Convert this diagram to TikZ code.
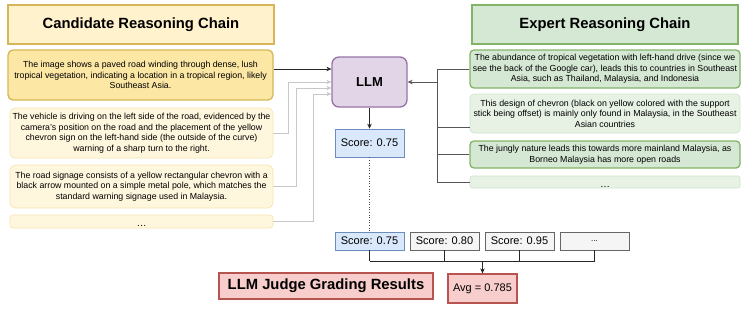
\documentclass[tikz,border=0pt]{standalone}
\usepackage{fontspec}
\setmainfont{Liberation Sans}
\usetikzlibrary{arrows.meta, calc}
\definecolor{CandFill}{HTML}{FFF2CC}
\definecolor{CandStrong}{HTML}{FCE7A5}
\definecolor{CandLight}{HTML}{FFF6DE}
\definecolor{CandEdge}{HTML}{D6B656}
\definecolor{CandEdgeLight}{HTML}{F5E3AD}
\definecolor{ExpFill}{HTML}{D5E8D4}
\definecolor{ExpLight}{HTML}{E7F2E5}
\definecolor{ExpEdge}{HTML}{82B366}
\definecolor{ExpEdgeLight}{HTML}{CDE4C9}
\definecolor{LlmFill}{HTML}{E1D5E7}
\definecolor{LlmEdge}{HTML}{9673A6}
\definecolor{ScoreFill}{HTML}{DAE8FC}
\definecolor{ScoreEdge}{HTML}{6C8EBF}
\definecolor{OtherFill}{HTML}{F5F5F5}
\definecolor{OtherEdge}{HTML}{666666}
\definecolor{JudgeFill}{HTML}{F8CECC}
\definecolor{JudgeEdge}{HTML}{B85450}
\definecolor{WireGray}{HTML}{C8C8C8}
\definecolor{WireDark}{HTML}{555555}

\begin{document}
\begin{tikzpicture}[x=1pt, y=-1pt,
    box/.style={inner sep=0pt, align=center, font=\fontsize{8.8}{10.5}\selectfont},
    title/.style={draw, line width=1.2pt, inner sep=0pt, font=\fontsize{14.8}{17}\selectfont\bfseries},
    candstrong/.style={box, rounded corners=5pt, draw=CandEdge, line width=1.3pt, fill=CandStrong},
    candlight/.style={box, rounded corners=5pt, draw=CandEdgeLight, line width=0.6pt, fill=CandLight},
    expstrong/.style={box, rounded corners=4pt, draw=ExpEdge, line width=1.3pt, fill=ExpFill},
    explight/.style={box, rounded corners=4pt, draw=ExpEdgeLight, line width=0.6pt, fill=ExpLight},
    scorebox/.style={draw, line width=0.6pt, inner sep=0pt, minimum width=69pt, minimum height=18pt,
      font=\fontsize{11}{13}\selectfont},
    wire/.style={line width=0.6pt, -{Stealth[length=5pt, width=4.5pt]}}]

\useasboundingbox (0,0) rectangle (753,314);

% ================= CADENA CANDIDATA =================
\node[title, draw=CandEdge, fill=CandFill, minimum width=266pt, minimum height=39pt]
    (ctitle) at (141,24.5) {Candidate Reasoning Chain};
\node[candstrong, minimum width=265pt, minimum height=50pt] (c1) at (140.5,75)
    {The image shows a paved road winding through dense, lush\\
     tropical vegetation, indicating a location in a tropical region, likely\\
     Southeast Asia.};
\node[candlight, minimum width=263pt, minimum height=50pt] (c2) at (141.5,133)
    {The vehicle is driving on the left side of the road, evidenced by the\\
     camera's position on the road and the placement of the yellow\\
     chevron sign on the left-hand side (the outside of the curve)\\
     warning of a sharp turn to the right.};
\node[candlight, minimum width=263pt, minimum height=43pt] (c3) at (141.5,186.5)
    {The road signage consists of a yellow rectangular chevron with a\\
     black arrow mounted on a simple metal pole, which matches the\\
     standard warning signage used in Malaysia.};
\node[candlight, rounded corners=3pt, minimum width=263pt, minimum height=13pt] (c4) at (141.5,221.5)
    {\smash{\raisebox{-5pt}{\fontsize{10}{10}\selectfont\ldots}}};

% ================= CADENA EXPERTA =================
\node[title, draw=ExpEdge, fill=ExpFill, minimum width=266pt, minimum height=39pt]
    (etitle) at (605,24.5) {Expert Reasoning Chain};
\node[expstrong, minimum width=270pt, minimum height=38pt] (e1) at (605,69)
    {The abundance of tropical vegetation with left-hand drive (since we\\
     see the back of the Google car), leads this to countries in Southeast\\
     Asia, such as Thailand, Malaysia, and Indonesia};
\node[explight, minimum width=270pt, minimum height=39pt] (e2) at (605,113.5)
    {This design of chevron (black on yellow colored with the support\\
     stick being offset) is mainly only found in Malaysia, in the Southeast\\
     Asian countries};
\node[expstrong, minimum width=270pt, minimum height=27pt] (e3) at (605,154.5)
    {The jungly nature leads this towards more mainland Malaysia, as\\
     Borneo Malaysia has more open roads};
\node[explight, rounded corners=2pt, minimum width=270pt, minimum height=12pt] (e4) at (605,182)
    {\smash{\raisebox{-5pt}{\fontsize{10}{10}\selectfont\ldots}}};

% ================= JUEZ LLM =================
\node[draw=LlmEdge, line width=1.3pt, fill=LlmFill, rounded corners=7pt, inner sep=0pt,
      minimum width=75pt, minimum height=50pt, font=\fontsize{13}{15}\selectfont\bfseries]
    (llm) at (369.5,82) {LLM};
\node[scorebox, draw=ScoreEdge, fill=ScoreFill, minimum height=28pt] (score) at (369.5,143) {Score: 0.75};

% entradas de la cadena candidata
\coordinate (in1) at ($(llm.west)+(0,-13)$);
\coordinate (in2) at (llm.west);
\coordinate (in3) at ($(llm.west)+(0,6)$);
\coordinate (in4) at ($(llm.west)+(0,12)$);
\draw[wire, black!85] (c1.east |- in1) -- (in1);
\draw[wire, WireGray] (c2.east) -- ++(15,0) |- (in2);
\draw[wire, WireGray] (c3.east) -- ++(23,0) |- (in3);
\draw[wire, WireGray] (c4.east) -- ++(40,0) |- (in4);

% cadena experta como referencia
\coordinate (trunk) at ($(e1.west)+(-32,0)$);
\draw[WireDark, line width=1pt] (e1.west) -- (trunk) |- (e4.west);
\draw[WireDark, line width=1pt] ([yshift=-13.5pt]e2.west) -- ([yshift=-13.5pt]e2.west -| trunk);
\draw[WireDark, line width=1pt] (e3.west) -- (e3.west -| trunk);
\draw[wire, WireDark, line width=1pt] (llm.east -| trunk) -- (llm.east);

\draw[wire, black!85] (llm.south) -- (score.north);

% ================= RESULTADOS =================
\node[scorebox, draw=ScoreEdge, fill=ScoreFill] (s1) at (369.5,241) {Score: 0.75};
\foreach \i/\x/\v in {2/444.5/0.80, 3/519.5/0.95}
    \node[scorebox, draw=OtherEdge, fill=OtherFill] (s\i) at (\x,241) {Score: \v};
\node[scorebox, draw=OtherEdge, fill=OtherFill, font=\fontsize{8}{10}\selectfont] (s4) at (594.5,241) {...};
\draw[dotted, black!70, line width=0.6pt] (score.south) -- (s1.north);

\node[draw=JudgeEdge, line width=1.3pt, fill=JudgeFill, inner sep=0pt, minimum width=214pt, minimum height=26pt,
      font=\fontsize{14.8}{17}\selectfont\bfseries] (judge) at (326,286) {LLM Judge Grading Results};
\node[draw=JudgeEdge, line width=1.3pt, fill=JudgeFill, inner sep=0pt, minimum width=69pt, minimum height=29pt,
      font=\fontsize{11}{13}\selectfont] (avg) at (482.5,288.5) {Avg = 0.785};

\coordinate (bar) at ($(avg.north)+(0,-12)$);
\foreach \i in {1,...,4}
    \draw[black!85, line width=0.6pt] (s\i.south) -- (s\i.south |- bar);
\draw[black!85, line width=0.6pt] (s1.south |- bar) -- (s4.south |- bar);
\draw[wire, black!85] (bar) -- (avg.north);

\end{tikzpicture}
\end{document}
